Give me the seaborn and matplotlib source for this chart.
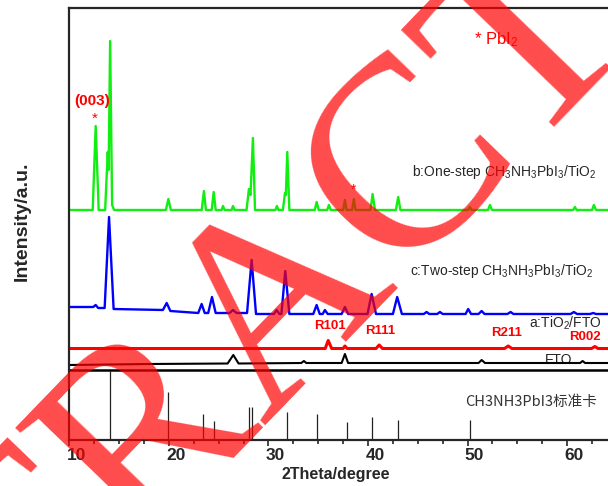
import matplotlib
matplotlib.use("Agg")
import matplotlib.pyplot as plt
from matplotlib import ticker
from matplotlib.transforms import ScaledTranslation
import seaborn as sns

# XRD patterns (2theta in degree, intensity in a.u. with offsets)
green_x = [10.0, 12.35, 12.65, 12.95, 13.6, 13.86, 13.95, 14.1, 14.3, 14.5, 19.7, 19.95, 20.2,
           23.3, 23.52, 23.72, 24.3, 24.5, 24.7, 25.3, 25.43, 25.6, 26.3, 26.44, 26.6,
           27.8, 28.04, 28.2, 28.44, 28.65, 30.7, 30.85, 31.0, 31.45, 31.66, 31.75, 31.89, 32.1,
           34.65, 34.84, 35.05, 35.9, 36.07, 36.25, 37.5, 37.68, 37.85, 38.4, 38.58, 38.75,
           40.25, 40.46, 40.7, 42.8, 43.03, 43.25, 50.05, 50.23, 50.4, 52.05, 52.24, 52.45,
           60.6, 60.78, 60.95, 62.5, 62.68, 62.9, 64.1]
green_y = [230, 230, 314, 230, 230, 288, 270, 399, 235, 230, 230, 241, 230,
           230, 249, 230, 230, 248, 230, 230, 234, 230, 230, 234, 230,
           230, 251, 245, 302, 230, 230, 234, 230, 230, 247, 245, 288, 230,
           230, 238, 230, 230, 235, 230, 230, 240, 230, 230, 241, 230,
           230, 246, 230, 230, 243, 230, 230, 233, 230, 230, 235, 230,
           230, 233, 230, 230, 235, 230, 230]

blue_x = [10.0, 12.4, 12.65, 12.9, 13.55, 13.99, 14.45, 19.4, 19.78, 20.15, 22.95, 23.29, 23.6,
          23.95, 24.33, 24.7, 26.1, 26.44, 26.8, 27.85, 28.31, 28.75, 30.55, 30.82, 31.1,
          31.3, 31.69, 32.1, 34.5, 34.84, 35.15, 35.45, 35.67, 35.95, 37.35, 37.68, 38.0,
          39.95, 40.36, 40.8, 42.5, 42.93, 43.4, 45.6, 45.88, 46.15, 46.95, 47.22, 47.5,
          49.8, 50.06, 50.35, 51.1, 51.41, 51.7, 54.0, 54.32, 54.6, 60.35, 60.67, 61.0,
          62.3, 62.61, 62.9, 64.1]
blue_y = [133, 133, 135, 132, 132, 223, 131, 130, 137, 129, 127, 136, 127,
          127, 143, 127, 127, 130, 127, 127, 180, 126, 126, 130, 126,
          126, 169, 126, 126, 135, 126, 126, 130, 126, 126, 133, 126,
          126, 146, 126, 126, 143, 126, 126, 128, 126, 126, 128, 126,
          126, 131, 126, 126, 129, 126, 126, 128, 126, 126, 128, 126,
          126, 127, 126, 126]

red_x = [10.0, 35.7, 36.0, 36.35, 37.5, 37.68, 37.9, 40.8, 41.12, 41.45,
         53.7, 54.08, 54.45, 62.45, 62.78, 63.1, 64.1]
red_y = [91.5, 91.5, 99.5, 91.5, 91.5, 94, 91.5, 91.5, 95, 91.5,
         91.5, 94, 91.5, 91.5, 93.5, 91.5, 91.5]

black_x = [10.0, 18.0, 25.9, 26.47, 27.0, 33.3, 33.56, 33.8, 37.35, 37.68, 38.0,
           51.1, 51.41, 51.75, 61.3, 61.55, 61.8, 64.1]
black_y = [75, 76, 76.5, 85, 76.5, 77, 79, 77, 77, 86, 77,
           77, 80, 77, 77, 79, 77, 77]

# CH3NH3PbI3 standard card
card_pos = [14.09, 19.88, 23.45, 24.50, 28.01, 28.34, 31.83, 34.87, 37.85, 40.39, 43.00, 50.23]
card_int = [69, 48, 26, 19, 33, 33, 28, 26, 18, 23, 20, 20]

rutile_labels = ["R101", "R111", "R211", "R002"]
rutile_pos = [36.17, 41.24, 53.95, 61.78]
rutile_lab_y = [114, 109.3, 106.7, 103.5]

sns.set_style("ticks")
plt.rcParams['font.family'] = ['Liberation Sans', 'Noto Sans CJK SC', 'DejaVu Sans']
plt.rcParams['mathtext.fontset'] = 'custom'
plt.rcParams['mathtext.rm'] = 'Liberation Sans'
plt.rcParams['mathtext.it'] = 'Liberation Sans:italic'
plt.rcParams['mathtext.bf'] = 'Liberation Sans:bold'

fig = plt.figure(figsize=(6.08, 4.86), dpi=100)
ax = fig.add_axes([69.3 / 608, 46 / 486, (608 - 69.3) / 608, 432 / 486])

sns.lineplot(x=green_x, y=green_y, color='#11ee11', lw=1.7, estimator=None, ax=ax)
sns.lineplot(x=blue_x, y=blue_y, color='#0000ff', lw=1.7, estimator=None, ax=ax)
sns.lineplot(x=red_x, y=red_y, color='#ff0000', lw=2.2, estimator=None, ax=ax)
sns.lineplot(x=black_x, y=black_y, color='black', lw=1.5, estimator=None, ax=ax)

ax.vlines(card_pos, 0, card_int, color='#222222', lw=0.9)
ax.axhline(70, color='black', lw=1.8)

ax.set_xlim(10, 64.1)
ax.set_ylim(0, 432)
ax.xaxis.set_major_locator(ticker.MultipleLocator(10))
ax.xaxis.set_minor_locator(ticker.MultipleLocator(2.5))
ax.tick_params(axis='x', which='major', direction='out', length=4, width=1.2, pad=1.5,
               labelsize=12.5)
ax.tick_params(axis='x', which='minor', direction='out', length=3, width=1.2)
ax.set_yticks([])
ax.spines['right'].set_visible(False)
for s in ['left', 'top', 'bottom']:
    ax.spines[s].set_linewidth(1.6)
offset = ScaledTranslation(7 / 100, 0, fig.dpi_scale_trans)
for lab in ax.get_xticklabels():
    lab.set_fontweight('bold')
    lab.set_transform(lab.get_transform() + offset)
ax.set_xlabel('')
ax.set_ylabel('')

# annotations
ax.text(12.28, 339, '(003)', color='red', fontsize=11, fontweight='bold', ha='center', va='center')
ax.text(12.58, 321, '*', color='red', fontsize=11, ha='center', va='center')
ax.text(38.58, 250, '*', color='red', fontsize=10, ha='center', va='center')
ax.text(50.63, 396, '* PbI$_\\mathregular{2}$', color='red', fontsize=12, ha='left', va='baseline')
ax.text(44.41, 264, 'b:One-step CH$_\\mathregular{3}$NH$_\\mathregular{3}$PbI$_\\mathregular{3}$/TiO$_\\mathregular{2}$',
        fontsize=10, ha='left', va='baseline')
ax.text(44.2, 165.3, 'c:Two-step CH$_\\mathregular{3}$NH$_\\mathregular{3}$PbI$_\\mathregular{3}$/TiO$_\\mathregular{2}$',
        fontsize=10, ha='left', va='baseline')
ax.text(56.16, 112.7, 'a:TiO$_\\mathregular{2}$/FTO', fontsize=10, ha='left', va='baseline')
ax.text(57.76, 76, 'FTO', fontsize=10, ha='left', va='baseline', zorder=1)
for lab, xp, yp in zip(rutile_labels, rutile_pos, rutile_lab_y):
    ax.text(xp, yp, lab, color='red', fontsize=9.5, fontweight='bold', ha='center', va='center')
ax.text(49.73, 38.3, 'CH3NH3PbI3标准卡', fontsize=10.5, color='#333333', ha='left', va='center',
        family=['Noto Sans CJK SC', 'DejaVu Sans'])

fig.text(22 / 608, 1 - 221 / 486, 'Intensity/a.u.', rotation=90, fontsize=14, fontweight='bold',
         ha='center', va='center')
fig.text(336 / 608, 1 - 474 / 486, '2Theta/degree', fontsize=11.5, fontweight='bold',
         ha='center', va='center')

# watermark
fig.text(335 / 608, 1 - 345 / 486, 'RETRACTED', family='Liberation Serif', fontsize=195,
         color='red', alpha=0.7, rotation=46, rotation_mode='anchor',
         ha='center', va='baseline', zorder=10)

fig.savefig('out.png', dpi=100)
